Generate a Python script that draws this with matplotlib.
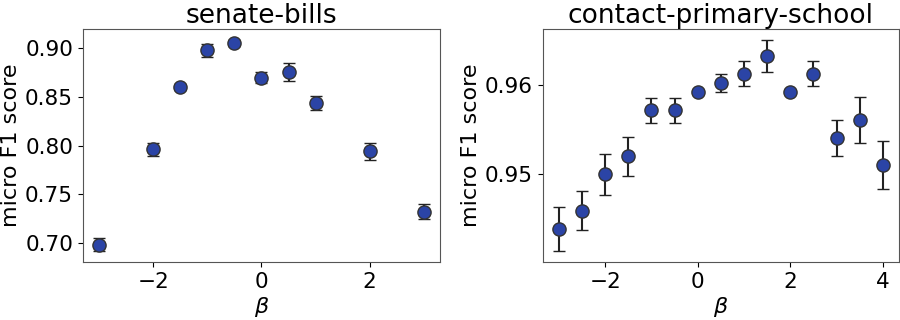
import matplotlib
matplotlib.use("Agg")
import matplotlib.pyplot as plt

# senate-bills
senate_beta = [-3, -2, -1.5, -1, -0.5, 0, 0.5, 1, 2, 3]
senate_f1 = [0.698, 0.796, 0.860, 0.898, 0.906, 0.870, 0.876, 0.844, 0.794, 0.732]
senate_err = [0.007, 0.0066, 0.003, 0.007, 0.003, 0.006, 0.009, 0.0075, 0.009, 0.0078]

# contact-primary-school
school_beta = [-3, -2.5, -2, -1.5, -1, -0.5, 0, 0.5, 1, 1.5, 2, 2.5, 3, 3.5, 4]
school_f1 = [0.9438, 0.9459, 0.9500, 0.9520, 0.9572, 0.9572, 0.9592, 0.9602,
             0.9613, 0.9633, 0.9592, 0.9613, 0.9541, 0.9561, 0.9510]
school_err = [0.00247, 0.0022, 0.0023, 0.0022, 0.0014, 0.0014, 0.0, 0.001,
              0.0014, 0.0018, 0.0, 0.0014, 0.002, 0.0026, 0.0027]

fig = plt.figure(figsize=(9, 3.2), dpi=100)
ax1 = fig.add_axes([0.092, 0.181, 0.397, 0.728])
ax2 = fig.add_axes([0.603, 0.181, 0.396, 0.728])

panels = [(ax1, "senate-bills", senate_beta, senate_f1, senate_err),
          (ax2, "contact-primary-school", school_beta, school_f1, school_err)]

for ax, title, x, y, err in panels:
    ax.errorbar(x, y, yerr=err, fmt='o', color='#2b44a6', markersize=9.5,
                markeredgecolor='#333333', markeredgewidth=1.0,
                ecolor='#222222', elinewidth=1.5, capsize=4, capthick=1.5)
    ax.set_title(title, fontsize=19, pad=3)
    ax.set_xlabel(r'$\beta$', fontsize=16, labelpad=2)
    ax.set_ylabel('micro F1 score', fontsize=16, labelpad=3)
    ax.tick_params(labelsize=15.5)
    for s in ax.spines.values():
        s.set_color('#555555')

ax1.set_yticks([0.70, 0.75, 0.80, 0.85, 0.90])
ax1.set_xticks([-2, 0, 2])
ax2.set_yticks([0.95, 0.96])
ax2.set_xticks([-2, 0, 2, 4])

fig.savefig("out.png", dpi=100)
